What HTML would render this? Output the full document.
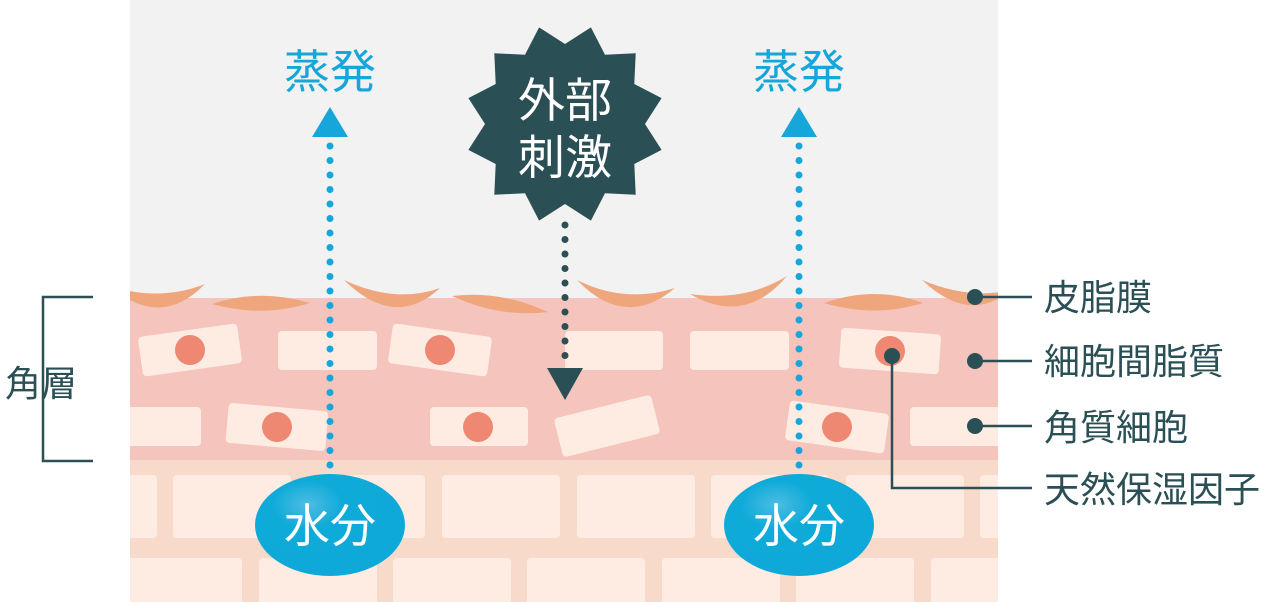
<!DOCTYPE html>
<html><head><meta charset="utf-8"><style>
html,body{margin:0;padding:0;background:#fff;}
svg{display:block;}
text{font-family:"Liberation Sans","Noto Sans CJK JP",sans-serif;}
</style></head><body>
<svg width="1274" height="602" viewBox="0 0 1274 602" xmlns="http://www.w3.org/2000/svg">
<rect x="130" y="0" width="868" height="298" fill="#f2f2f2"/>
<rect x="130" y="298" width="868" height="162" fill="#f5c4bc"/>
<rect x="130" y="460" width="868" height="142" fill="#f7dac9"/>
<clipPath id="c"><rect x="130" y="0" width="868" height="602"/></clipPath>
<g clip-path="url(#c)" fill="#feece3">
<rect x="100" y="475" width="57" height="63" rx="4"/>
<rect x="173" y="475" width="118" height="63" rx="4"/>
<rect x="307" y="475" width="118" height="63" rx="4"/>
<rect x="442" y="475" width="118" height="63" rx="4"/>
<rect x="577" y="475" width="118" height="63" rx="4"/>
<rect x="711" y="475" width="118" height="63" rx="4"/>
<rect x="846" y="475" width="118" height="63" rx="4"/>
<rect x="980" y="475" width="118" height="63" rx="4"/>
<rect x="124" y="558" width="118" height="60" rx="4"/>
<rect x="259" y="558" width="118" height="60" rx="4"/>
<rect x="393" y="558" width="118" height="60" rx="4"/>
<rect x="527" y="558" width="118" height="60" rx="4"/>
<rect x="662" y="558" width="118" height="60" rx="4"/>
<rect x="796" y="558" width="118" height="60" rx="4"/>
<rect x="931" y="558" width="118" height="60" rx="4"/>
<rect x="140" y="330" width="100" height="40" rx="4" transform="rotate(-8 190 350)"/>
<rect x="278" y="331" width="99" height="39" rx="4"/>
<rect x="390" y="330" width="100" height="40" rx="4" transform="rotate(8 440 350)"/>
<rect x="565" y="331" width="98" height="39" rx="4"/>
<rect x="690" y="331" width="99" height="39" rx="4"/>
<rect x="840" y="331" width="100" height="40" rx="4" transform="rotate(4 890 351)"/>
<rect x="100" y="407" width="101" height="39" rx="4"/>
<rect x="227" y="407" width="100" height="40" rx="4" transform="rotate(5 277 427)"/>
<rect x="430" y="407" width="98" height="39" rx="4"/>
<rect x="557" y="406" width="100" height="40" rx="4" transform="rotate(-14 607 426)"/>
<rect x="787" y="407" width="100" height="40" rx="4" transform="rotate(8 837 427)"/>
<rect x="910" y="407" width="110" height="39" rx="4"/>
</g>
<g fill="#ee8872">
<circle cx="190" cy="350" r="15"/><circle cx="440" cy="350" r="15"/><circle cx="890" cy="351" r="15"/>
<circle cx="277" cy="427" r="15"/><circle cx="478" cy="427" r="15"/><circle cx="837" cy="427" r="15"/>
</g>
<g fill="#f0a67c" clip-path="url(#c)">
<path d="M110,286 Q160,330 205,284 Q160,302 110,286Z"/>
<path d="M212,304 Q260,288 310,303 Q262,318 212,304Z"/>
<path d="M344,280 Q395,330 440,288 Q395,304 344,280Z"/>
<path d="M452,296 Q500,290 548,312 Q500,318 452,296Z"/>
<path d="M577,280 Q625,330 675,288 Q625,304 577,280Z"/>
<path d="M690,294 Q745,326 787,276 Q745,302 690,294Z"/>
<path d="M824,303 Q875,285 923,303 Q875,318 824,303Z"/>
<path d="M922,280 Q970,325 1010,290 Q970,300 922,280Z"/>
</g>
<g stroke="#16a6d9" stroke-width="7" stroke-linecap="round" stroke-dasharray="0 14.5" fill="none">
<line x1="330" y1="146" x2="330" y2="467"/>
<line x1="799" y1="146" x2="799" y2="467"/>
</g>
<g fill="#16a6d9">
<polygon points="312,137 348,137 330,107"/>
<polygon points="781,137 817,137 799,107"/>
</g>
<g fill="#16a6d9" font-size="46" text-anchor="middle">
<text x="330" y="88">蒸発</text>
<text x="799" y="88">蒸発</text>
</g>
<line x1="565" y1="225" x2="565" y2="358" stroke="#2a4f55" stroke-width="7" stroke-linecap="round" stroke-dasharray="0 14.5"/>
<polygon points="547,368 583,368 565,400" fill="#2a4f55"/>
<polygon fill="#2a4f55" points="539.1,27.4 565,44 590.9,27.4 605,54.7 635.7,53.3 634.3,84 661.6,98.1 645,124 661.6,149.9 634.3,164 635.7,194.7 605,193.3 590.9,220.6 565,204 539.1,220.6 525,193.3 494.3,194.7 495.7,164 468.4,149.9 485,124 468.4,98.1 495.7,84 494.3,53.3 525,54.7"/>
<g fill="#fff" font-size="47" text-anchor="middle">
<text x="565" y="117">外部</text>
<text x="565" y="174">刺激</text>
</g>
<defs><radialGradient id="g" cx="0.35" cy="0.3" r="0.6"><stop offset="0" stop-color="#4dbde3"/><stop offset="0.4" stop-color="#0eaad8"/><stop offset="1" stop-color="#0ea9d8"/></radialGradient></defs>
<ellipse cx="330" cy="525" rx="75" ry="51" fill="url(#g)"/>
<ellipse cx="799" cy="525" rx="75" ry="51" fill="url(#g)"/>
<g fill="#fff" font-size="46" text-anchor="middle">
<text x="330" y="542">水分</text>
<text x="799" y="542">水分</text>
</g>
<g stroke="#2a4f55" stroke-width="2.5" fill="none">
<line x1="975" y1="297" x2="1032" y2="297"/>
<line x1="975" y1="361" x2="1032" y2="361"/>
<line x1="975" y1="426" x2="1032" y2="426"/>
<polyline points="892,356 892,488 1032,488"/>
<polyline points="93,297 43,297 43,461 93,461"/>
</g>
<g fill="#2a4f55">
<circle cx="975" cy="297" r="8"/><circle cx="975" cy="361" r="8"/><circle cx="975" cy="426" r="8"/><circle cx="892" cy="356" r="8"/>
</g>
<g fill="#2a4f55" font-size="36">
<text x="1044" y="310">皮脂膜</text>
<text x="1044" y="374">細胞間脂質</text>
<text x="1044" y="440">角質細胞</text>
<text x="1044" y="502">天然保湿因子</text>
<text x="5" y="396">角層</text>
</g>
</svg>
</body></html>
